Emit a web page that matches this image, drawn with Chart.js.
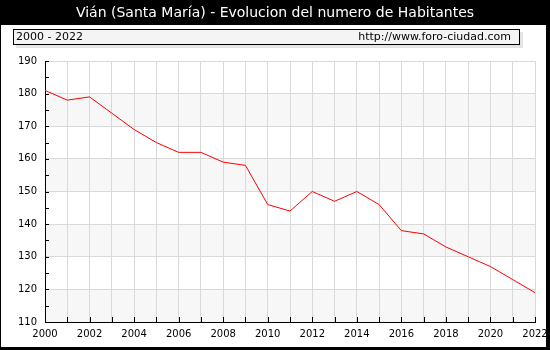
<!DOCTYPE html>
<html lang="es">
<head>
  <meta charset="UTF-8">
  <title>Vián (Santa María) - Evolucion del numero de Habitantes</title>
  <script src="https://cdn.jsdelivr.net/npm/chart.js"></script>
  <style>
    html, body { margin: 0; padding: 0; background: #fff; }
    #wrap { width: 550px; height: 350px; }
  </style>
</head>
<body>
  <div id="wrap"><canvas id="habChart" width="550" height="350"></canvas></div>

  <script>
    // Población por año (Vián - Santa María)
    const years = [2000, 2001, 2002, 2003, 2004, 2005, 2006, 2007, 2008, 2009, 2010, 2011,
                   2012, 2013, 2014, 2015, 2016, 2017, 2018, 2019, 2020, 2021, 2022];
    const habitantes = [181, 178, 179, 174, 169, 165, 162, 162, 159, 158, 146, 144,
                        150, 147, 150, 146, 138, 137, 133, 130, 127, 123, 119];
    const yMin = 110, yMax = 190;

    const titulo = 'Vián (Santa María) - Evolucion del numero de Habitantes';
    const periodo = '2000 - 2022';
    const web = 'http://www.foro-ciudad.com';

    const FONT = '"DejaVu Sans", Verdana, sans-serif';

    // marco negro, cabecera y caja de periodo
    const marco = {
      id: 'marco',
      beforeDraw(chart) {
        const c = chart.ctx;
        c.save();
        c.fillStyle = '#000';
        c.fillRect(0, 0, 550, 350);
        c.fillStyle = '#fff';
        c.fillRect(1, 25, 545, 322);

        c.font = '14px ' + FONT;
        c.textAlign = 'center';
        c.textBaseline = 'middle';
        c.fillText(titulo, 275, 13);

        c.fillStyle = '#e4e4e4';
        c.fillRect(16, 32, 507, 16);
        c.fillStyle = '#f4f4f4';
        c.fillRect(13, 29, 507, 16);
        c.strokeStyle = '#000';
        c.lineWidth = 1;
        c.strokeRect(13.5, 29.5, 506, 15);

        c.fillStyle = '#000';
        c.font = '11px ' + FONT;
        c.textAlign = 'left';
        c.fillText(periodo, 16, 37.5);
        c.textAlign = 'right';
        c.fillText(web, 511, 37.5);
        c.restore();
      }
    };

    // bandas alternas detrás de la rejilla
    const bandas = {
      id: 'bandas',
      beforeDraw(chart) {
        const { ctx: c, chartArea: a, scales: { y } } = chart;
        c.save();
        c.fillStyle = '#f7f7f7';
        for (let v = yMin; v < yMax; v += 20) {
          const top = y.getPixelForValue(v + 10), bot = y.getPixelForValue(v);
          c.fillRect(a.left, top, a.right - a.left, bot - top);
        }
        c.restore();
      }
    };

    // marcas de los ejes hacia dentro
    const marcas = {
      id: 'marcas',
      afterDatasetsDraw(chart) {
        const { ctx: c, chartArea: a, scales: { x, y } } = chart;
        c.save();
        c.strokeStyle = '#000';
        c.lineWidth = 1;
        c.beginPath();
        for (let v = yMin; v <= yMax; v += 5) {
          const py = Math.round(y.getPixelForValue(v)) + 0.5;
          c.moveTo(a.left, py);
          c.lineTo(a.left + 4, py);
        }
        for (const yr of years) {
          const px = Math.round(x.getPixelForValue(yr)) + 0.5;
          c.moveTo(px, a.bottom);
          c.lineTo(px, a.bottom - 5);
        }
        c.stroke();
        c.restore();
      }
    };

    new Chart(document.getElementById('habChart'), {
      type: 'line',
      data: {
        datasets: [{
          data: years.map((yr, i) => ({ x: yr, y: habitantes[i] })),
          borderColor: '#ff0000',
          borderWidth: 1,
          pointRadius: 0,
          tension: 0,
          fill: false
        }]
      },
      options: {
        responsive: false,
        animation: false,
        events: [],
        layout: { padding: { left: 0, top: 61, right: 15, bottom: 0 } },
        plugins: { legend: { display: false }, tooltip: { enabled: false }, title: { display: false } },
        scales: {
          x: {
            type: 'linear',
            min: 2000,
            max: 2022,
            afterFit: s => { s.height = 28; s.paddingLeft = 0; s.paddingRight = 0; },
            border: { display: true, color: '#000', width: 1 },
            grid: { color: '#d9d9d9', drawTicks: false },
            ticks: {
              stepSize: 1,
              autoSkip: false,
              maxRotation: 0,
              padding: 6,
              color: '#000',
              font: { family: FONT, size: 10 },
              callback: v => (v % 2 === 0 ? String(v) : '')
            }
          },
          y: {
            min: yMin,
            max: yMax,
            afterFit: s => { s.width = 45; s.paddingTop = 0; s.paddingBottom = 0; },
            border: { display: true, color: '#000', width: 1 },
            grid: {
              drawTicks: false,
              color: ctx => (ctx.tick && ctx.tick.value % 10 === 0 ? '#d9d9d9' : 'rgba(0,0,0,0)')
            },
            ticks: {
              stepSize: 5,
              padding: 8,
              color: '#000',
              font: { family: FONT, size: 10 },
              callback: v => (v % 10 === 0 ? String(v) : '')
            }
          }
        }
      },
      plugins: [marco, bandas, marcas]
    });
  </script>
</body>
</html>
